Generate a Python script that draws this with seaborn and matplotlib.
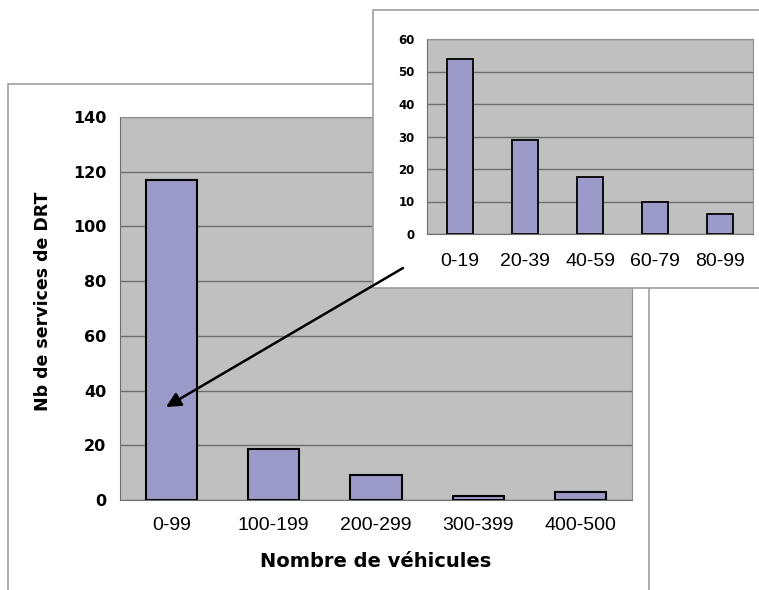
import matplotlib
matplotlib.use("Agg")
import matplotlib.pyplot as plt
import seaborn as sns
import pandas as pd
from matplotlib.patches import Rectangle, FancyArrowPatch

# main chart: number of DRT services by fleet size
main_cats = ["0-99", "100-199", "200-299", "300-399", "400-500"]
main_vals = [117, 18.8, 9.1, 1.6, 2.8]

# inset: detail of the 0-99 class
inset_cats = ["0-19", "20-39", "40-59", "60-79", "80-99"]
inset_vals = [54, 29, 17.5, 10, 6.3]

BAR = "#9c9ac9"
BG = "#c0c0c0"
GRID = "#6e6e6e"

sns.set_style("white")
plt.rcParams["font.family"] = ["Liberation Sans", "DejaVu Sans"]
plt.rcParams["text.color"] = "black"
plt.rcParams["axes.labelcolor"] = "black"
plt.rcParams["xtick.labelcolor"] = "black"
plt.rcParams["ytick.labelcolor"] = "black"

fig = plt.figure(figsize=(7.59, 5.90), dpi=100)
W, H = 759, 590


def fx(px):
    return px / W


def fy(py):
    return 1 - py / H


# outer frame of the main chart
fig.add_artist(Rectangle((fx(8), fy(600)), fx(641), fy(84) - fy(600),
                         transform=fig.transFigure, facecolor="white",
                         edgecolor="#a0a0a0", lw=1.2, zorder=0.5))

ax = fig.add_axes([fx(120), fy(500), fx(632 - 120), fy(117) - fy(500)])
ax.set_zorder(1)
df_main = pd.DataFrame({"cat": main_cats, "val": main_vals})
sns.barplot(data=df_main, x="cat", y="val", color=BAR, width=0.5,
            edgecolor="black", linewidth=1.5, saturation=1, ax=ax)
ax.set_facecolor(BG)
ax.set_ylim(0, 140)
ax.set_xlim(-0.5, 4.5)
ax.set_yticks(range(0, 141, 20))
ax.yaxis.grid(True, color=GRID, lw=1)
ax.set_axisbelow(True)
ax.set_xticks([i - 0.5 for i in range(6)], minor=True)
ax.tick_params(axis="x", which="major", length=0, pad=12.5, labelsize=14)
ax.tick_params(axis="x", which="minor", length=5, color=GRID, direction="out")
ax.tick_params(axis="y", length=5, color=GRID, direction="out", pad=5)
for lab in ax.get_yticklabels():
    lab.set_fontweight("bold")
    lab.set_family("DejaVu Sans")
    lab.set_fontsize(11.5)
for side in ["left", "bottom"]:
    ax.spines[side].set_color(GRID)
for side in ["top", "right"]:
    ax.spines[side].set_color("#909090")
ax.set_xlabel("Nombre de véhicules", fontsize=14, fontweight="bold",
              family="DejaVu Sans")
ax.set_ylabel("Nb de services de DRT", fontsize=12.5, fontweight="bold",
              family="DejaVu Sans")
ax.xaxis.set_label_coords(0.5, -0.136)
ax.yaxis.set_label_coords(-0.133, 0.52)

# inset frame (covers part of the main chart)
fig.add_artist(Rectangle((fx(373), fy(288)), fx(400), fy(10) - fy(288),
                         transform=fig.transFigure, facecolor="white",
                         edgecolor="#a0a0a0", lw=1.2, zorder=2))

ax2 = fig.add_axes([fx(427), fy(234), fx(753 - 427), fy(39) - fy(234)])
ax2.set_zorder(3)
df_in = pd.DataFrame({"cat": inset_cats, "val": inset_vals})
sns.barplot(data=df_in, x="cat", y="val", color=BAR, width=0.4,
            edgecolor="black", linewidth=1.3, saturation=1, ax=ax2)
ax2.set_facecolor(BG)
ax2.set_ylim(0, 60)
ax2.set_xlim(-0.5, 4.5)
ax2.set_yticks(range(0, 61, 10))
ax2.yaxis.grid(True, color=GRID, lw=1)
ax2.set_axisbelow(True)
ax2.set_xticks([i - 0.5 for i in range(6)], minor=True)
ax2.tick_params(axis="x", which="major", length=0, pad=13.5, labelsize=14)
ax2.tick_params(axis="x", which="minor", length=4, color=GRID, direction="out")
ax2.tick_params(axis="y", length=4, color=GRID, direction="out", pad=5)
for lab in ax2.get_yticklabels():
    lab.set_fontweight("bold")
    lab.set_family("DejaVu Sans")
    lab.set_fontsize(8.5)
for side in ["left", "bottom"]:
    ax2.spines[side].set_color(GRID)
for side in ["top", "right"]:
    ax2.spines[side].set_color("#909090")
ax2.set_xlabel("")
ax2.set_ylabel("")

# arrow from the inset to the 0-99 bar
fig.add_artist(FancyArrowPatch((fx(403), fy(268)), (fx(166), fy(407)),
                               transform=fig.transFigure, arrowstyle="-|>",
                               mutation_scale=22, color="black", lw=1.8,
                               shrinkA=0, shrinkB=0, zorder=4))

fig.savefig("out.png", dpi=100)
